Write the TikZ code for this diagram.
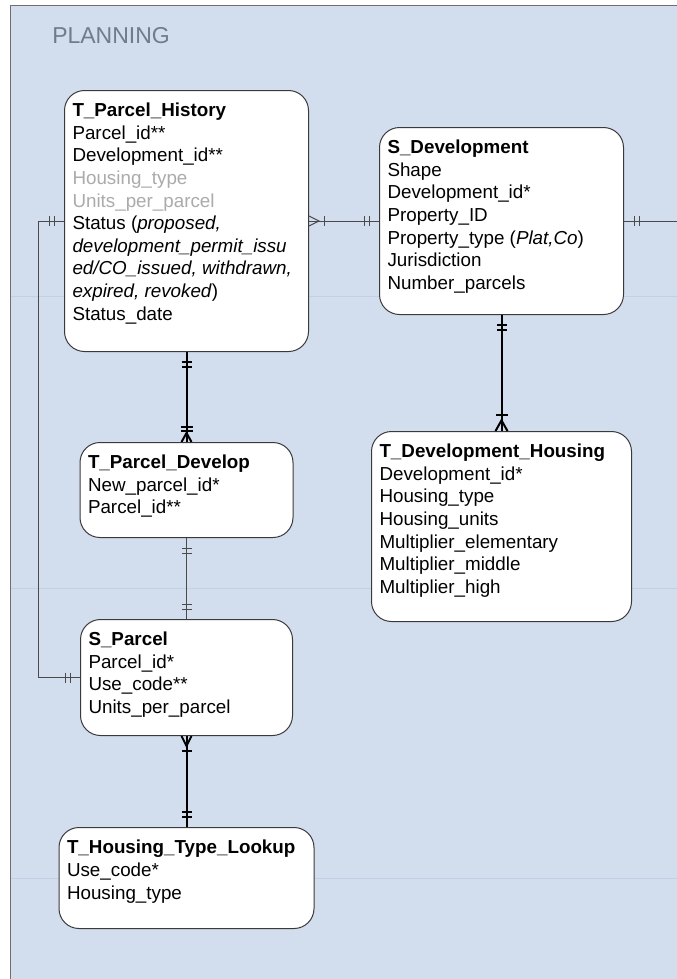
\documentclass[tikz,border=0pt]{standalone}
\usepackage{fontspec}
\setmainfont{Liberation Sans}
\usetikzlibrary{positioning,decorations.markings}

\definecolor{pagebg}{HTML}{D2DDED}
\definecolor{pageline}{HTML}{C1D0E7}
\definecolor{framegray}{HTML}{6F6F6F}
\definecolor{boxline}{HTML}{3A3A3A}
\definecolor{faded}{HTML}{ABABAB}
\definecolor{titlegray}{HTML}{6E7C8E}
\definecolor{relgray}{HTML}{4A4A4A}

\begin{document}
\begin{tikzpicture}[x=0.75pt,y=-0.75pt,
    tbl/.style 2 args={draw=boxline, fill=white, line width=0.75pt, rounded corners=15pt,
      inner xsep=6pt, inner ysep=9.5pt, font=\fontsize{14.1pt}{16.95pt}\selectfont,
      execute at begin node={\begin{minipage}[t][#2][t]{#1}},
      execute at end node={\end{minipage}}},
    rel/.style={draw=relgray, line width=0.75pt},
    relbold/.style={draw=black, line width=1.5pt},
    one start/.style={postaction={decorate,decoration={markings,
      mark=at position 7.5pt with {\draw (0,-5) -- (0,5);},
      mark=at position 11.25pt with {\draw (0,-5) -- (0,5);}}}},
    one end/.style={postaction={decorate,decoration={markings,
      mark=at position -11.25pt with {\draw (0,-5) -- (0,5);},
      mark=at position -7.5pt with {\draw (0,-5) -- (0,5);}}}},
    many start/.style={postaction={decorate,decoration={markings,
      mark=at position 7.5pt with {\draw (-10,-5) -- (0,0) -- (-10,5);},
      mark=at position 11.25pt with {\draw (0,-5) -- (0,5);}}}},
    many end/.style={postaction={decorate,decoration={markings,
      mark=at position -12pt with {\draw (0,-6) -- (0,6);},
      mark=at position -8pt with {\draw (10.7,-6) -- (0,0) -- (10.7,6);}}}},
    many2 end/.style={postaction={decorate,decoration={markings,
      mark=at position -11.25pt with {\draw (0,-6) -- (0,6);},
      mark=at position -8.5pt with {\draw (0,-6) -- (0,6);},
      mark=at position -6.75pt with {\draw (9,-5) -- (0,0) -- (9,5);}}}}]
\useasboundingbox (0,0) rectangle (677,979);
% page
\fill[pagebg] (10,5) rectangle (677,979);
\draw[pageline, line width=0.75pt] (10,296) -- (677,296);
\draw[pageline, line width=0.75pt] (10,588) -- (677,588);
\draw[pageline, line width=0.75pt] (10,878) -- (677,878);
\draw[framegray, line width=0.75pt] (677,5) -- (10,5) -- (10,979);
\node (planning) [anchor=base west, inner sep=0pt, text=titlegray,
  font=\fontsize{17.25pt}{20pt}\selectfont] at (52,43) {PLANNING};

% tables
\node (hist) [tbl={171pt}{176.75pt}, anchor=north west] at (64,90)
  {\textbf{T\_Parcel\_History}\\ Parcel\_id**\\ Development\_id**\\
   \textcolor{faded}{Housing\_type}\\ \textcolor{faded}{Units\_per\_parcel}\\
   Status (\textit{proposed,}\\ \textit{development\_permit\_issu}\\
   \textit{ed/CO\_issued, withdrawn,}\\ \textit{expired, revoked})\\ Status\_date};
\node (sdev) [tbl={171pt}{121.25pt}, right=52.5pt of hist]
  {\textbf{S\_Development}\\ Shape\\ Development\_id*\\ Property\_ID\\
   Property\_type (\textit{Plat,Co})\\ Jurisdiction\\ Number\_parcels};
\node (tpd) [tbl={147.75pt}{52.25pt}, below=67.5pt of hist]
  {\textbf{T\_Parcel\_Develop}\\ New\_parcel\_id*\\ Parcel\_id**};
\node (spar) [tbl={147pt}{68pt}, below=60.75pt of tpd]
  {\textbf{S\_Parcel}\\ Parcel\_id*\\ Use\_code**\\ Units\_per\_parcel};
\node (look) [tbl={179.25pt}{56.75pt}, below=68.25pt of spar]
  {\textbf{T\_Housing\_Type\_Lookup}\\ Use\_code*\\ Housing\_type};
\node (tdh) [tbl={183pt}{123.5pt}, below=87pt of sdev]
  {\textbf{T\_Development\_Housing}\\ Development\_id*\\ Housing\_type\\
   Housing\_units\\ Multiplier\_elementary\\ Multiplier\_middle\\ Multiplier\_high};

\coordinate (rim) at (677,0 |- sdev.east);

% relations
\draw[rel, many start, one end] (hist.east) -- (sdev.west);
\draw[rel, one start] (sdev.east) -- (rim);
\draw[relbold, one start, many end] (sdev.south) -- (tdh.north);
\draw[relbold, one start, many2 end] (hist.south) -- (tpd.north);
\draw[rel, one start, one end] (tpd.south) -- (spar.north);
\draw[rel, one start, one end] (hist.west) -- ++(-26,0) |- (spar.west);
\draw[relbold, many start, one end] (spar.south) -- (look.north);
\end{tikzpicture}
\end{document}
